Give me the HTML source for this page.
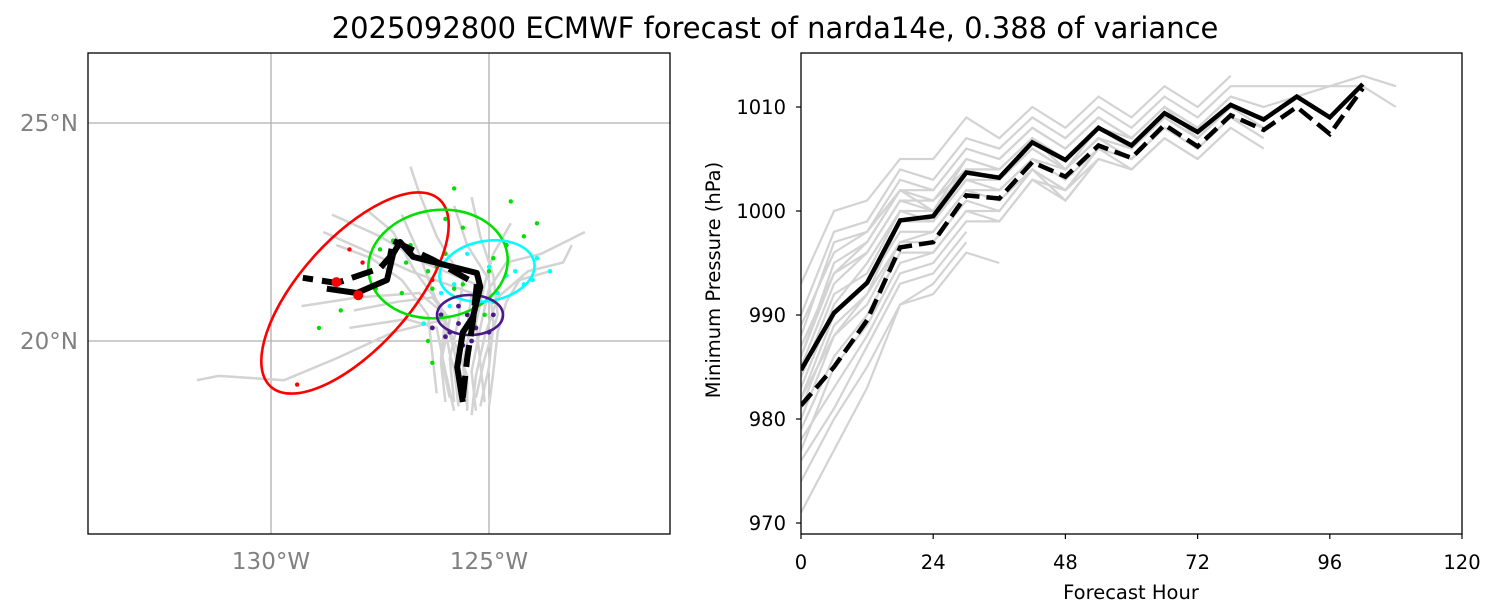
<!DOCTYPE html>
<html><head><meta charset="utf-8"><style>
body{margin:0;background:#fff;}
svg{display:block;font-family:"DejaVu Sans","Liberation Sans",sans-serif;}
</style></head><body>
<svg id="fig" width="1496" height="612" viewBox="0 0 1496 612">
<rect width="1496" height="612" fill="#fff"/>
<text x="775" y="38" text-anchor="middle" font-size="29">2025092800 ECMWF forecast of narda14e, 0.388 of variance</text>
<g id="map"></g>
<g id="pres"></g>
</svg>
<script>
// ---- map data (lon, lat) ----
const meanTrack = [[-125.6,18.6],[-125.73,19.4],[-125.6,20.2],[-125.37,20.55],[-125.2,21.24],[-125.28,21.56],[-126.74,21.93],[-127.04,22.27],[-127.2,22.0],[-127.34,21.4],[-128.03,21.1],[-128.72,21.2]];
const dashTrack = [[-125.6,18.7],[-125.5,19.6],[-125.37,20.45],[-125.28,21.3],[-126.28,21.86],[-127.2,22.3],[-127.27,21.93],[-127.5,21.67],[-128.49,21.33],[-129.27,21.45]];
const redDots = [[-128.0,21.05],[-128.5,21.35]];
const ensTracks = [
 [[-125.5,18.5],[-125.6,19.5],[-125.4,20.4],[-125.3,21.3],[-126.5,21.8],[-127.5,22.4],[-128.6,22.9]],
 [[-125.8,18.6],[-125.9,19.6],[-125.7,20.5],[-125.6,21.4],[-126.2,22.4],[-126.6,23.4],[-126.8,24.0]],
 [[-125.3,18.4],[-125.4,19.3],[-125.2,20.3],[-125.0,21.2],[-124.6,21.8],[-123.8,22.0],[-123.2,22.3],[-122.8,22.5]],
 [[-125.9,18.7],[-126.1,19.6],[-126.0,20.6],[-126.6,21.1],[-128.0,21.0],[-129.3,20.8]],
 [[-125.6,18.8],[-125.8,19.8],[-126.0,20.5],[-127.2,20.2],[-128.5,19.6],[-129.7,19.1],[-131.2,19.2],[-131.7,19.1]],
 [[-125.2,18.5],[-125.0,19.4],[-124.9,20.4],[-125.0,21.4],[-125.5,22.2],[-125.8,23.1]],
 [[-125.7,18.5],[-125.8,19.4],[-125.5,20.3],[-125.4,21.1],[-126.8,21.6],[-127.9,22.1],[-128.8,22.5]],
 [[-126.0,18.6],[-126.1,19.5],[-125.9,20.5],[-126.3,21.0],[-127.1,20.9],[-128.1,20.7]],
 [[-125.4,18.3],[-125.3,19.2],[-125.1,20.1],[-124.8,21.0],[-124.1,21.6],[-123.3,21.8],[-123.1,22.2]],
 [[-125.6,18.7],[-125.9,19.7],[-126.1,20.8],[-126.7,21.6],[-127.2,22.5],[-127.8,23.0]],
 [[-125.1,18.6],[-125.2,19.5],[-125.3,20.4],[-125.1,21.3],[-124.9,22.0],[-124.5,22.7]],
 [[-125.8,18.4],[-126.0,19.3],[-126.2,20.3],[-126.9,20.5],[-128.2,20.3]],
 [[-125.0,18.5],[-124.9,19.3],[-124.8,20.2],[-124.6,20.9],[-124.3,21.4],[-123.6,21.6]],
 [[-126.2,18.8],[-126.3,19.7],[-126.4,20.6],[-127.0,21.4],[-127.7,21.9],[-128.5,22.2]],
 [[-125.5,18.4],[-125.5,19.2],[-125.8,20.0],[-126.2,20.9],[-126.6,22.0],[-127.0,22.9]],
 [[-125.3,18.7],[-125.1,19.6],[-124.8,20.6],[-124.9,21.5],[-125.2,22.4],[-125.4,23.3]]
];
const greenDots = [[-125.8,23.5],[-124.5,23.2],[-126.0,22.8],[-125.6,22.6],[-124.2,22.4],[-126.8,22.2],[-126.8,22.1],[-127.2,22.3],[-127.5,22.1],[-126.9,21.8],[-126.4,21.6],[-126.2,21.7],[-125.6,21.3],[-125.0,21.6],[-127.6,21.2],[-128.4,20.7],[-128.9,20.3],[-126.5,20.4],[-126.3,21.2],[-127.0,21.1],[-125.8,21.2],[-125.1,20.6],[-126.3,19.5],[-126.0,22.0],[-124.6,22.2],[-124.9,21.9],[-123.9,22.7],[-126.4,20.0]];
const cyanDots = [[-125.5,22.0],[-125.0,21.7],[-124.6,21.5],[-124.0,21.4],[-125.8,21.3],[-126.1,21.1],[-125.2,21.2],[-124.8,21.1],[-124.4,21.6],[-125.9,20.8],[-124.9,20.9],[-123.9,21.9],[-123.6,21.6],[-126.5,20.4],[-124.2,21.3]];
const purpleDots = [[-125.5,20.6],[-125.7,20.4],[-125.3,20.3],[-125.9,20.2],[-126.1,20.6],[-124.9,20.6],[-125.4,20.0],[-125.6,19.9],[-126.3,20.3],[-125.0,20.2],[-125.7,20.8],[-126.0,20.1]];
const redSmall = [[-128.2,22.1],[-127.9,21.8],[-126.3,21.4],[-129.4,19.0]];

// ---- pressure data ----
const hours = [0,6,12,18,24,30,36,42,48,54,60,66,72,78,84,90,96,102];
const meanPres = [984.7,990.2,993.1,999.1,999.5,1003.7,1003.2,1006.6,1004.9,1008.0,1006.3,1009.4,1007.6,1010.2,1008.8,1011.0,1009.0,1012.2];
const detPres = [981.3,985.0,989.5,996.5,997.0,1001.5,1001.2,1004.7,1003.3,1006.3,1005.1,1008.3,1006.2,1009.2,1007.8,1010.0,1007.4,1011.8];
const ensPres = [
 [993,1000,1001,1005,1005,1009,1007,1010,1008,1011,1009,1012,1010,1013],
 [990,998,999,1004,1003,1007,1006,1009,1007,1010,1008,1011,1009,1012,1012,1012,1012,1013,1012],
 [988,997,998,1003,1002,1006,1005,1008,1006,1009,1007,1010,1008,1011,1010,1011,1012,1012,1010],
 [986,995,997,1002,1001,1005,1004,1007,1005,1008,1006,1009,1007,1010,1009],
 [985,993,996,1001,1001,1004,1003,1006,1004,1007,1005,1008,1006,1009,1008],
 [983,991,995,1000,999,1003,1002,1005,1003,1006,1005,1008,1006,1009,1007],
 [982,990,993,998,998,1002,1001,1004,1002,1006,1004,1007,1005,1008,1006],
 [980,988,991,997,997,1001,1000,1004,1001,1005,1004,1007,1005,1008],
 [979,986,990,996,996,1000,999,1003,1002,1005,1004,1007,1005],
 [978,983,988,994,995,999,999,1003,1001,1005],
 [976,981,987,993,994,998],
 [974,980,985,991,993,997],
 [971,977,983,991,992,996,995],
 [987,994,997,1002,1000,1004,1004,1007,1004,1008,1007,1010,1007,1010,1008],
 [981,989,992,999,999,1003,1003,1006,1004,1007,1006,1009,1007,1010,1009],
 [989,996,998,1002,1002,1006,1005,1008,1006,1009,1007,1010,1008,1011,1010],
 [984,992,994,1000,1000,1004,1003,1007,1005,1008,1006,1009,1007,1010],
 [977,985,989,995,996,1000,1000,1004,1002,1006],
 [986,994,996,1001,1000,1005,1004,1007,1005,1008,1006],
 [982,988,992,997,998,1002,1002,1005,1004,1007,1005,1008]
];
const pTicksY = [970,980,990,1000,1010];
const pTicksX = [0,24,48,72,96,120];

const NS='http://www.w3.org/2000/svg';
function el(t,a,p){const e=document.createElementNS(NS,t);for(const k in a)e.setAttribute(k,a[k]);p.appendChild(e);return e;}
const M=document.getElementById('map'), P=document.getElementById('pres');

// map axes
const mx=lon=>271+(lon+130)*43.6, my=lat=>341-(lat-20)*43.6;
const clip=el('clipPath',{id:'mc'},M); el('rect',{x:88,y:53,width:582,height:481},clip);
const mg=el('g',{'clip-path':'url(#mc)'},M);
[-130,-125].forEach(l=>{const g=el('line',{x1:mx(l),x2:mx(l),y1:53,y2:534,stroke:'#b0b0b0','stroke-width':1.3},mg);
});
[20,25].forEach(l=>{const g=el('line',{x1:88,x2:670,y1:my(l),y2:my(l),stroke:'#b0b0b0','stroke-width':1.3},mg);
});
const pts=a=>a.map(p=>mx(p[0]).toFixed(1)+','+my(p[1]).toFixed(1)).join(' ');
ensTracks.forEach(t=>{const e=el('polyline',{points:pts(t),fill:'none',stroke:'#d3d3d3','stroke-width':2.5},mg);
});
function dots(arr,c,r,name){arr.forEach(p=>{const e=el('circle',{cx:mx(p[0]),cy:my(p[1]),r:r,fill:c},mg);
});}
dots(greenDots,'#00e000',2.2,'green-member-dot');
dots(cyanDots,'#00ffff',2.2,'cyan-member-dot');
dots(purpleDots,'#4b1a8a',2.4,'purple-member-dot');
dots(redSmall,'#ff0000',2.2,'red-member-dot');
function ell(cx,cy,rx,ry,rot,c,name){const e=el('ellipse',{cx,cy,rx,ry,transform:`rotate(${rot} ${cx} ${cy})`,fill:'none',stroke:c,'stroke-width':2.6},mg);
}
ell(355,293,126,55,-48,'#ff0000','red-ellipse');
ell(438,264,70,54,-8,'#00e000','green-ellipse');
ell(487,271,48,30,-10,'#00ffff','cyan-ellipse');
ell(470,315,33,20,0,'#4b1a8a','purple-ellipse');
let e1=el('polyline',{points:pts(meanTrack),fill:'none',stroke:'#000','stroke-width':6,'stroke-linejoin':'round'},mg);

let e2=el('polyline',{points:pts(dashTrack),fill:'none',stroke:'#000','stroke-width':6,'stroke-dasharray':'22 9'},mg);

dots(redDots,'#ff0000',5,'position-marker');
el('rect',{x:88,y:53,width:582,height:481,fill:'none',stroke:'#000','stroke-width':1.3},M);
[[-130,'130°W'],[-125,'125°W']].forEach(([l,s])=>{const t=el('text',{x:mx(l),y:569,'text-anchor':'middle','font-size':23,fill:'#808080'},M);t.textContent=s;
});
[[20,'20°N'],[25,'25°N']].forEach(([l,s])=>{const t=el('text',{x:78,y:my(l)+8,'text-anchor':'end','font-size':23,fill:'#808080'},M);t.textContent=s;
});

// pressure chart
const px=h=>801+h*661/120, py=v=>107+(1010-v)*10.4;
const pc=el('clipPath',{id:'pc'},P); el('rect',{x:801,y:53,width:661,height:481},pc);
const pg=el('g',{'clip-path':'url(#pc)'},P);
const line=v=>v.map((y,i)=>px(hours[i]).toFixed(1)+','+py(y).toFixed(1)).join(' ');
const lineE=v=>v.map((y,i)=>px(i*6).toFixed(1)+','+py(y).toFixed(1)).join(' ');
ensPres.forEach(v=>{const e=el('polyline',{points:lineE(v),fill:'none',stroke:'#d3d3d3','stroke-width':2.2},pg);
});
let m1=el('polyline',{points:line(meanPres),fill:'none',stroke:'#000','stroke-width':4.5},pg);

let m2=el('polyline',{points:line(detPres),fill:'none',stroke:'#000','stroke-width':4.5,'stroke-dasharray':'16 7'},pg);

el('rect',{x:801,y:53,width:661,height:481,fill:'none',stroke:'#000','stroke-width':1.3},P);
pTicksY.forEach(v=>{el('line',{x1:796,x2:801,y1:py(v),y2:py(v),stroke:'#000','stroke-width':1.2},P);
const t=el('text',{x:786,y:py(v)+7,'text-anchor':'end','font-size':19.5},P);t.textContent=v;
});
pTicksX.forEach(v=>{el('line',{x1:px(v),x2:px(v),y1:534,y2:539,stroke:'#000','stroke-width':1.2},P);
const t=el('text',{x:px(v),y:569,'text-anchor':'middle','font-size':19.5},P);t.textContent=v;
});
let xt=el('text',{x:1131,y:599,'text-anchor':'middle','font-size':19.5},P);xt.textContent='Forecast Hour';

let yt=el('text',{x:720,y:280,'text-anchor':'middle','font-size':19.5,transform:'rotate(-90 720 280)'},P);yt.textContent='Minimum Pressure (hPa)';

</script>
</body></html>
